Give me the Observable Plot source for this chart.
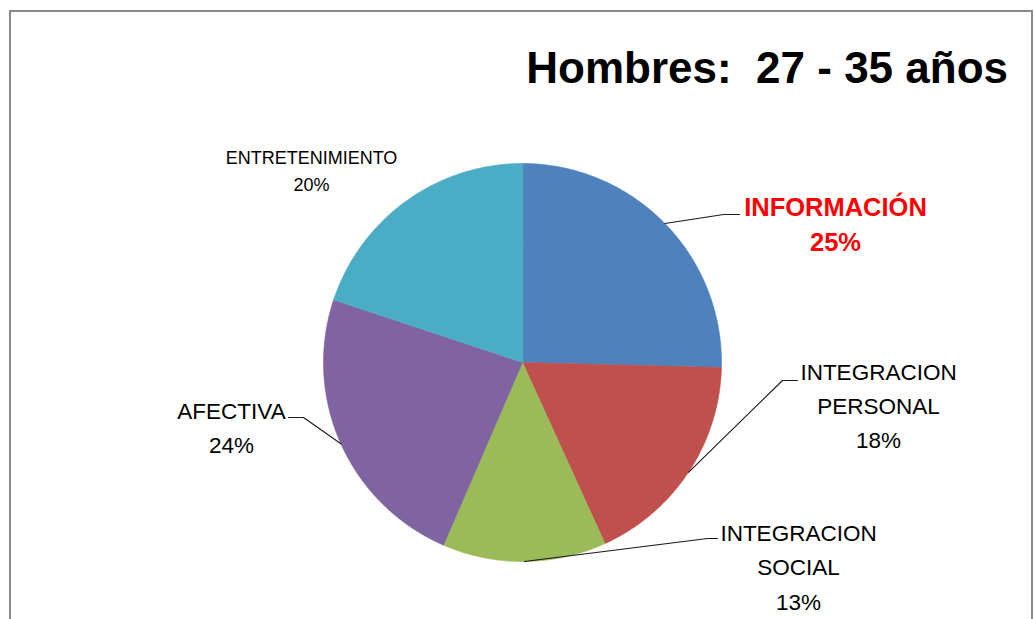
<!DOCTYPE html>
<html><head><meta charset="utf-8">
<script src="https://cdn.jsdelivr.net/npm/d3@7"></script>
<script src="https://cdn.jsdelivr.net/npm/@observablehq/plot@0.6"></script>
<style>
body{margin:0;background:#fff;}
#wrap{position:relative;width:1034px;height:619px;overflow:hidden;font-family:"Liberation Sans",Arial,sans-serif;}
#chart{position:absolute;left:0;top:0;}
#border{position:absolute;left:9px;top:10px;width:1020px;height:700px;border:2px solid #8a8a8a;}
#title{position:absolute;right:26px;top:43px;font-size:44px;font-weight:bold;color:#000;white-space:pre;line-height:normal;}
</style></head><body>
<div id="wrap"><div id="chart"></div><div id="border"></div><div id="title"></div></div>
<script>
// ---- data ----
const title = "Hombres:  27 - 35 años";
const categories = ["INFORMACIÓN", "INTEGRACION PERSONAL", "INTEGRACION SOCIAL", "AFECTIVA", "ENTRETENIMIENTO"];
const labelTexts = ["INFORMACIÓN", "INTEGRACION\nPERSONAL", "INTEGRACION\nSOCIAL", "AFECTIVA", "ENTRETENIMIENTO"];
const values = [25.4, 17.8, 13.3, 23.6, 19.9];
const colors = ["#4F81BD", "#C0504D", "#9BBB59", "#8064A2", "#4BACC6"];

// ---- layout (pixels) ----
const cx = 522, cy = 362, R = 199;
const labelLayout = [
  {x: 835, y: 250, size: 25.5, weight: "bold", color: "#FF0000", lh: 1.37, elbow: [723, 214], end: [739, 214]},
  {x: 878, y: 447, size: 22.5, weight: "normal", color: "#000", lh: 1.49, elbow: [782, 380], end: [797, 380]},
  {x: 798, y: 609, size: 22.5, weight: "normal", color: "#000", lh: 1.53, elbow: [707, 538], end: [717, 538]},
  {x: 231, y: 452, size: 22.5, weight: "normal", color: "#000", lh: 1.51, elbow: [303, 417], end: [288, 417]},
  {x: 311, y: 190, size: 18, weight: "normal", color: "#000", lh: 1.5, elbow: null, end: null}
];
const ux = px => (px - cx) / R;
const uy = py => (cy - py) / R;

document.getElementById("title").textContent = title;

// ---- slice geometry from values ----
const total = d3.sum(values);
let acc = 0;
const slices = values.map((v, i) => {
  const a0 = acc / total * 2 * Math.PI;
  acc += v;
  const a1 = acc / total * 2 * Math.PI;
  return {cat: categories[i], value: v, a0, a1, mid: (a0 + a1) / 2};
});
const piePts = [];
for (const s of slices) {
  piePts.push({cat: s.cat, x: 0, y: 0});
  const n = Math.max(2, Math.ceil((s.a1 - s.a0) / (Math.PI / 360)));
  for (let k = 0; k <= n; k++) {
    const t = s.a0 + (s.a1 - s.a0) * k / n;
    piePts.push({cat: s.cat, x: Math.sin(t), y: Math.cos(t)});
  }
}
const leaderPts = [];
slices.forEach((s, i) => {
  const L = labelLayout[i];
  if (!L.elbow) return;
  leaderPts.push({cat: s.cat, x: Math.sin(s.mid), y: Math.cos(s.mid)});
  leaderPts.push({cat: s.cat, x: ux(L.elbow[0]), y: uy(L.elbow[1])});
  leaderPts.push({cat: s.cat, x: ux(L.end[0]), y: uy(L.end[1])});
});

const textMarks = slices.map((s, i) => {
  const L = labelLayout[i];
  return Plot.text([{x: ux(L.x), y: uy(L.y), t: `${labelTexts[i]}\n${Math.round(s.value)}%`}], {
    x: "x", y: "y", text: "t", lineAnchor: "bottom", textAnchor: "middle",
    fontSize: L.size, fontWeight: L.weight, fill: L.color, lineHeight: L.lh
  });
});

const chart = Plot.plot({
  width: 1034, height: 619, margin: 0,
  x: {domain: [-1, 1], range: [cx - R, cx + R], axis: null},
  y: {domain: [-1, 1], range: [cy + R, cy - R], axis: null},
  color: {domain: categories, range: colors},
  style: {background: "transparent", fontFamily: "'Liberation Sans', Arial, sans-serif", overflow: "visible"},
  marks: [
    Plot.line(piePts, {x: "x", y: "y", z: "cat", fill: "cat", stroke: "cat", strokeWidth: 0.6, curve: "linear-closed"}),
    Plot.line(leaderPts, {x: "x", y: "y", z: "cat", stroke: "#1a1a1a", strokeWidth: 1.1}),
    ...textMarks
  ]
});
document.getElementById("chart").appendChild(chart);
</script>
</body></html>
